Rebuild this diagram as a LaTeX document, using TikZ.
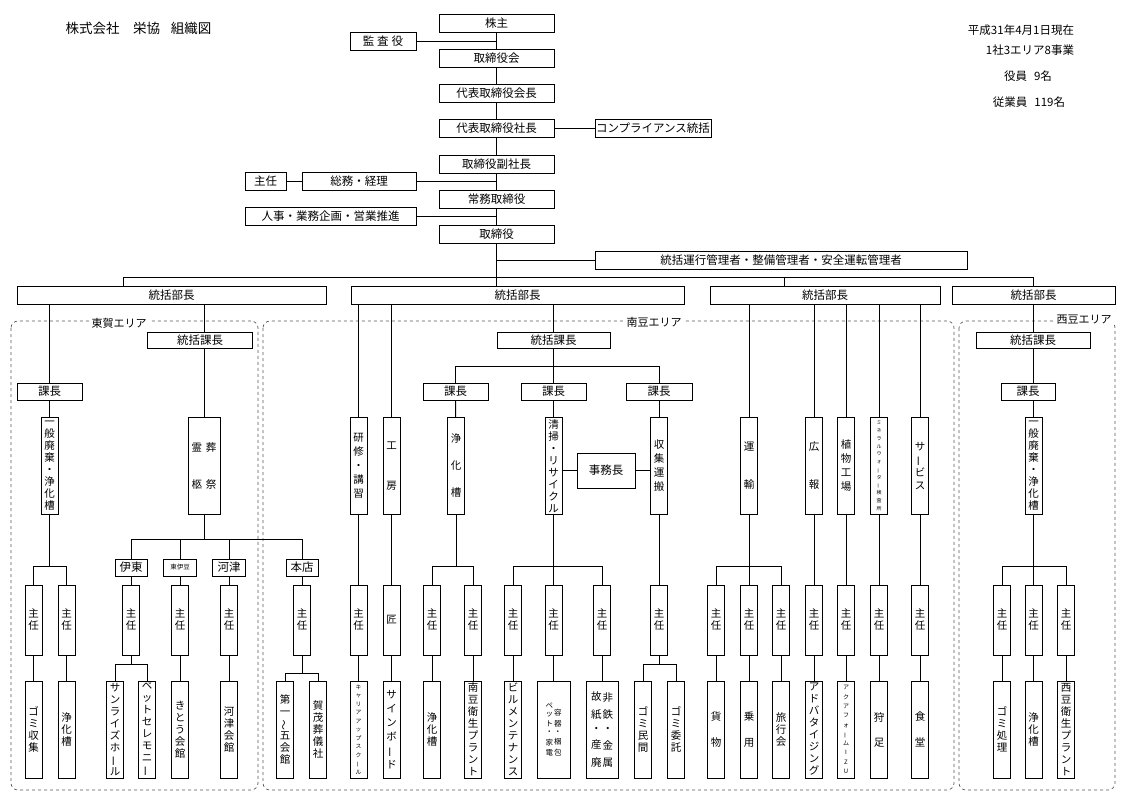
\documentclass[tikz,border=0pt]{standalone}
\usepackage{fontspec}
\usepackage{graphicx}
\setmainfont{Noto Sans CJK JP}
\usetikzlibrary{shadows,backgrounds}

\newcommand\tbar{\rotatebox[origin=c]{90}{ー}}
\newcommand\ttilde{\rotatebox[origin=c]{90}{～}}

\tikzset{
  box/.style={draw,line width=0.7pt,fill=white,inner sep=0pt,align=center,
    font=\fontsize{10.5}{12}\selectfont,
    drop shadow={shadow xshift=0.9pt,shadow yshift=-0.9pt,opacity=1,fill=black}},
  hbox/.style={box,minimum height=18,font=\fontsize{11.5}{13}\selectfont},
  vbox/.style={box,minimum width=17,minimum height=97},
  shbox/.style={box,minimum width=17,minimum height=70},
  smalltext/.style 2 args={font=\fontsize{#1}{#2}\selectfont},
  note/.style={font=\fontsize{11.5}{13}\selectfont},
  area/.style={draw=black!65,dashed,line width=0.7pt,rounded corners=7},
  arealabel/.style={fill=white,inner sep=2pt,font=\fontsize{11}{13}\selectfont},
  link/.style={line width=0.9pt}
}

\begin{document}
\begin{tikzpicture}[x=1pt,y=-1pt]
\useasboundingbox (0,0) rectangle (1124,801);

% title and notes
\draw (138.5,28) node[font=\fontsize{13.5}{15}\selectfont](title) {株式会社\hspace{1em}栄協\hspace{0.8em}組織図};
\draw (1021,30) node[note](date) {平成31年4月1日現在};
\draw (1030,50) node[note](jigyo) {1社3エリア8事業};
\draw (1028,76) node[note](yakuin) {役員\hspace{0.6em}9名};
\draw (1029,102) node[note](jugyoin) {従業員\hspace{0.6em}119名};

% executives
\draw (496.5,23) node[hbox,minimum width=115](kabunushi) {株主};
\draw (383,41) node[hbox,minimum width=66](kansa) {監\hspace{3pt}査\hspace{3pt}役};
\draw (496.5,58) node[hbox,minimum width=115](kai) {取締役会};
\draw (496.5,93) node[hbox,minimum width=115](kaicho) {代表取締役会長};
\draw (496.5,128.5) node[hbox,minimum width=115](shacho) {代表取締役社長};
\draw (653,128.5) node[hbox,minimum width=116](compliance) {コンプライアンス統括};
\draw (496.5,164) node[hbox,minimum width=115](fukushacho) {取締役副社長};
\draw (265.5,181.5) node[hbox,minimum width=41](shunin0) {主任};
\draw (359,181.5) node[hbox,minimum width=114](somu) {総務・経理};
\draw (496.5,199) node[hbox,minimum width=115](jomu) {常務取締役};
\draw (330.5,216.5) node[hbox,minimum width=171](jinji) {人事・業務企画・営業推進};
\draw (496.5,234) node[hbox,minimum width=115](torishimari) {取締役};
\draw (781,260) node[hbox,minimum width=372](unko) {統括運行管理者・整備管理者・安全運転管理者};

% general managers
\draw (171.5,295) node[hbox,minimum width=309](bucho1) {統括部長};
\draw (517.5,295) node[hbox,minimum width=333](bucho2) {統括部長};
\draw (825,295) node[hbox,minimum width=230](bucho3) {統括部長};
\draw (1033.5,295) node[hbox,minimum width=163](bucho4) {統括部長};
\coordinate (busL) at (123,277);
\coordinate (busM) at (784,277);
\coordinate (busR) at (1033.5,277);

% area labels
\draw (119,323) node[arealabel](tohga) {東賀エリア};
\draw (654,322) node[arealabel](nanzu) {南豆エリア};
\draw (1084,320) node[arealabel](seizu) {西豆エリア};

% 東賀
\draw (200,340) node[hbox,minimum width=105,minimum height=16](tokatsu1) {統括課長};
\draw (49.5,391.5) node[hbox,minimum width=65,minimum height=17](kacho1) {課長};
\draw (49.5,466) node[vbox](ippan1) {一\\般\\廃\\棄\\・\\浄\\化\\槽};
\draw (204,466) node[vbox,minimum width=32](reikyu) {霊\hspace{4pt}葬\\[25pt]柩\hspace{4pt}祭};
\draw (33.5,620) node[shbox](shunin1a) {主\\任};
\draw (66.5,620) node[shbox](shunin1b) {主\\任};
\draw (33.5,729.5) node[vbox](gomi1) {ゴ\\ミ\\収\\集};
\draw (66.5,729.5) node[vbox](jouka1) {浄\\化\\槽};
\draw (131,567.5) node[hbox,minimum width=32,minimum height=17](ito) {伊東};
\draw (180,567.5) node[hbox,minimum width=33,minimum height=17,smalltext={6.5}{8}](higashiizu) {東伊豆};
\draw (229,567.5) node[hbox,minimum width=33,minimum height=17](kawazu) {河津};
\draw (302,567.5) node[hbox,minimum width=32,minimum height=17](honten) {本店};
\draw (131,620) node[shbox](shunin2a) {主\\任};
\draw (180,620) node[shbox](shunin2b) {主\\任};
\draw (229,620) node[shbox](shunin2c) {主\\任};
\draw (302,620) node[shbox](shunin2d) {主\\任};
\draw (115,729.5) node[vbox](sunrise) {サ\\ン\\ラ\\イ\\ズ\\ホ\\\tbar\\ル};
\draw (147,729.5) node[vbox](pet) {ペ\\ッ\\ト\\セ\\レ\\モ\\ニ\\\tbar};
\draw (180,729.5) node[vbox](kitou) {き\\と\\う\\会\\館};
\draw (229,729.5) node[vbox](kawazukaikan) {河\\津\\会\\館};
\draw (285,729.5) node[vbox](daiichi) {第\\一\\\ttilde\\五\\会\\館};
\draw (318,729.5) node[vbox](kamo) {賀\\茂\\葬\\儀\\社};

% 南豆
\draw (553.5,340.5) node[hbox,minimum width=113,minimum height=16](tokatsu2) {統括課長};
\draw (455.5,391.5) node[hbox,minimum width=65,minimum height=17](kacho2a) {課長};
\draw (553.5,391.5) node[hbox,minimum width=65,minimum height=17](kacho2b) {課長};
\draw (659,391.5) node[hbox,minimum width=66,minimum height=17](kacho2c) {課長};
\draw (358.5,466) node[vbox](kenshu) {研\\[2pt]修\\[2pt]・\\[2pt]講\\[2pt]習};
\draw (391.5,466) node[vbox](kobo) {工\\[28pt]房};
\draw (456,466) node[vbox](jouka2) {浄\\[15pt]化\\[15pt]槽};
\draw (553.5,466) node[vbox](seiso) {清\\掃\\・\\リ\\サ\\イ\\ク\\ル};
\draw (606,470.5) node[hbox,minimum width=58,minimum height=35](jimucho) {事務長};
\draw (659,466) node[vbox](shushu) {収\\[2pt]集\\[2pt]運\\[2pt]搬};
\draw (358.5,620) node[shbox](shunin3a) {主\\任};
\draw (391.5,620) node[shbox](takumi) {匠};
\draw (432,620) node[shbox](shunin3b) {主\\任};
\draw (473,620) node[shbox](shunin3c) {主\\任};
\draw (513,620) node[shbox](shunin3d) {主\\任};
\draw (553.5,620) node[shbox](shunin3e) {主\\任};
\draw (602,620) node[shbox](shunin3f) {主\\任};
\draw (659,620) node[shbox](shunin3g) {主\\任};
\draw (358.5,729.5) node[vbox,smalltext={5.8}{8.5}](career) {キ\\ャ\\リ\\ア\\ア\\ッ\\プ\\ス\\ク\\\tbar\\ル};
\draw (391.5,729.5) node[vbox](signboard) {サ\\[2pt]イ\\[2pt]ン\\[2pt]ボ\\[2pt]\tbar\\[2pt]ド};
\draw (432,729.5) node[vbox](jouka3) {浄\\化\\槽};
\draw (473,729.5) node[vbox](nanzueisei) {南\\豆\\衛\\生\\プ\\ラ\\ン\\ト};
\draw (513,729.5) node[vbox](biru) {ビ\\ル\\メ\\ン\\テ\\ナ\\ン\\ス};
\draw (553.5,729.5) node[vbox,minimum width=33,smalltext={7.5}{9}](youki) {\shortstack{ペ\\[1pt]ッ\\[1pt]ト\\[1pt]・\\[1pt]家\\[1pt]電}\hspace{1pt}\shortstack{容\\[1pt]器\\[1pt]・\\[1pt]梱\\[1pt]包}};
\draw (602,729.5) node[vbox,minimum width=32](hitetsu) {\shortstack{故\\[5pt]紙\\[5pt]・\\[5pt]産\\[5pt]廃}\hspace{1pt}\shortstack{非\\[5pt]鉄\\[5pt]・\\[5pt]金\\[5pt]属}};
\draw (643,729.5) node[vbox](gomiminkan) {ゴ\\ミ\\民\\間};
\draw (676,729.5) node[vbox](gomiitaku) {ゴ\\ミ\\委\\託};

% 運輸ほか
\draw (749,466) node[vbox](unyu) {運\\[26pt]輸};
\draw (814,466) node[vbox](koho) {広\\[26pt]報};
\draw (846,466) node[vbox](shokubutsu) {植\\[2pt]物\\[2pt]工\\[2pt]場};
\draw (879,466) node[vbox,smalltext={5}{7.8}](mineral) {ミ\\ネ\\ラ\\ル\\ウ\\ォ\\\tbar\\タ\\\tbar\\検\\査\\所};
\draw (920,466) node[vbox](service) {サ\\[1pt]\tbar\\[1pt]ビ\\[1pt]ス};
\draw (716,620) node[shbox](shunin4a) {主\\任};
\draw (749,620) node[shbox](shunin4b) {主\\任};
\draw (781,620) node[shbox](shunin4c) {主\\任};
\draw (814,620) node[shbox](shunin4d) {主\\任};
\draw (846,620) node[shbox](shunin4e) {主\\任};
\draw (879,620) node[shbox](shunin4f) {主\\任};
\draw (920,620) node[shbox](shunin4g) {主\\任};
\draw (716,729.5) node[vbox](kamotsu) {貨\\[14pt]物};
\draw (749,729.5) node[vbox](joyo) {乗\\[14pt]用};
\draw (781,729.5) node[vbox](ryokou) {旅\\行\\会};
\draw (814,729.5) node[vbox](adv) {ア\\ド\\バ\\タ\\イ\\ジ\\ン\\グ};
\draw (846,729.5) node[vbox,smalltext={6}{9.3}](aqua) {ア\\ク\\ア\\フ\\ォ\\\tbar\\ム\\I\\Z\\U};
\draw (879,729.5) node[vbox](kariashi) {狩\\[13pt]足};
\draw (920,729.5) node[vbox](shokudo) {食\\[14pt]堂};

% 西豆
\draw (1033,340) node[hbox,minimum width=114,minimum height=16](tokatsu4) {統括課長};
\draw (1028,391.5) node[hbox,minimum width=54,minimum height=17](kacho4) {課長};
\draw (1033.5,466) node[vbox](ippan4) {一\\般\\廃\\棄\\・\\浄\\化\\槽};
\draw (1002,620) node[shbox](shunin5a) {主\\任};
\draw (1033.5,620) node[shbox](shunin5b) {主\\任};
\draw (1066,620) node[shbox](shunin5c) {主\\任};
\draw (1002,729.5) node[vbox](gomishori) {ゴ\\ミ\\処\\理};
\draw (1033.5,729.5) node[vbox](jouka5) {浄\\化\\槽};
\draw (1066,729.5) node[vbox](seizueisei) {西\\豆\\衛\\生\\プ\\ラ\\ン\\ト};

\begin{scope}[on background layer]
% areas
\draw[area] (11,321) rectangle (258,790);
\draw[area] (263,321) rectangle (954,790);
\draw[area] (959,321) rectangle (1115,790);
% executive line
\draw[link] (kabunushi) -- (kai) -- (kaicho) -- (shacho) -- (fukushacho) -- (jomu) -- (torishimari) -- (torishimari |- bucho2.north);
\draw[link] (kansa) -- (kansa -| kabunushi);
\draw[link] (shacho) -- (compliance);
\draw[link] (shunin0) -- (somu);
\draw[link] (somu) -- (somu -| kabunushi);
\draw[link] (jinji) -- (jinji -| kabunushi);
\draw[link] (unko) -- (unko -| kabunushi);
\draw[link] (busL |- bucho1.north) -- (busL) -- (busR) -- (busR |- bucho4.north);
\draw[link] (busM) -- (busM |- bucho3.north);
% 東賀
\draw[link] (bucho1.south -| ippan1) -- (ippan1);
\draw[link] (bucho1.south -| reikyu) -- (reikyu);
\foreach \n in {shunin1a,shunin1b} \draw[link] (ippan1.south) -- ++(0,52) -| (\n.north);
\draw[link] (shunin1a) -- (gomi1);
\draw[link] (shunin1b) -- (jouka1);
\foreach \n in {ito,higashiizu,kawazu,honten} \draw[link] (reikyu.south) -- ++(0,25) -| (\n.north);
\draw[link] (ito) -- (shunin2a);
\draw[link] (higashiizu) -- (shunin2b) -- (kitou);
\draw[link] (kawazu) -- (shunin2c) -- (kawazukaikan);
\draw[link] (honten) -- (shunin2d);
\foreach \n in {sunrise,pet} \draw[link] (shunin2a.south) -- ++(0,9) -| (\n.north);
\foreach \n in {daiichi,kamo} \draw[link] (shunin2d.south) -- ++(0,18) -| (\n.north);
% 南豆
\draw[link] (bucho2.south -| kenshu) -- (career);
\draw[link] (bucho2.south -| kobo) -- (signboard);
\draw[link] (bucho2.south -| tokatsu2) -- (tokatsu2);
\foreach \n in {kacho2a,kacho2b,kacho2c} \draw[link] (tokatsu2.south) -- ++(0,18) -| (\n.north);
\draw[link] (kacho2a) -- (jouka2);
\draw[link] (kacho2b) -- (seiso);
\draw[link] (kacho2c) -- (shushu) -- (shunin3g);
\draw[link] (seiso |- jimucho) -- (shushu |- jimucho);
\foreach \n in {shunin3b,shunin3c} \draw[link] (jouka2.south) -- ++(0,52) -| (\n.north);
\foreach \n in {shunin3d,shunin3e,shunin3f} \draw[link] (seiso.south) -- ++(0,52) -| (\n.north);
\draw[link] (shunin3b) -- (jouka3);
\draw[link] (shunin3c) -- (nanzueisei);
\draw[link] (shunin3d) -- (biru);
\draw[link] (shunin3e) -- (youki);
\draw[link] (shunin3f) -- (hitetsu);
\foreach \n in {gomiminkan,gomiitaku} \draw[link] (shunin3g.south) -- ++(0,9) -| (\n.north);
% 運輸ほか
\foreach \n in {unyu,koho,shokubutsu,mineral,service} \draw[link] (bucho3.south -| \n) -- (\n);
\foreach \n in {shunin4a,shunin4b,shunin4c} \draw[link] (unyu.south) -- ++(0,52) -| (\n.north);
\draw[link] (koho) -- (shunin4d) -- (adv);
\draw[link] (shokubutsu) -- (shunin4e) -- (aqua);
\draw[link] (mineral) -- (shunin4f) -- (kariashi);
\draw[link] (service) -- (shunin4g) -- (shokudo);
\draw[link] (shunin4a) -- (kamotsu);
\draw[link] (shunin4b) -- (joyo);
\draw[link] (shunin4c) -- (ryokou);
% 西豆
\draw[link] (bucho4) -- (ippan4);
\foreach \n in {shunin5a,shunin5b,shunin5c} \draw[link] (ippan4.south) -- ++(0,52) -| (\n.north);
\draw[link] (shunin5a) -- (gomishori);
\draw[link] (shunin5b) -- (jouka5);
\draw[link] (shunin5c) -- (seizueisei);
\end{scope}
\end{tikzpicture}
\end{document}
